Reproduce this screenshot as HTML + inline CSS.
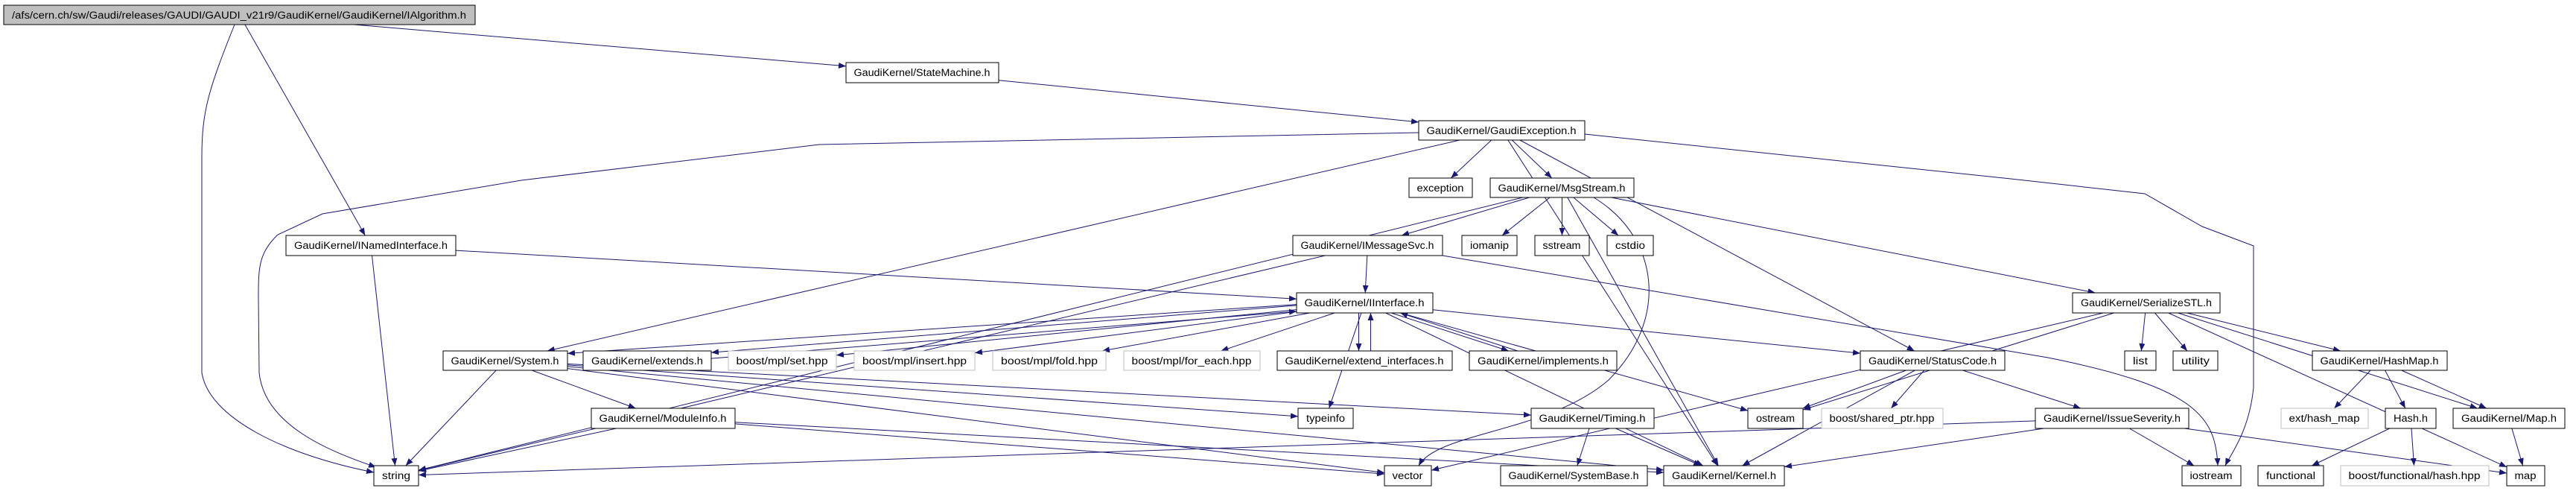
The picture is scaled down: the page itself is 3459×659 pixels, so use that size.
<!DOCTYPE html>
<html><head><meta charset="utf-8">
<style>
html,body{margin:0;padding:0;background:#fff;}
svg{display:block;}
text{font-family:"Liberation Sans",sans-serif;font-size:13.5px;fill:#000;}
</style></head>
<body>
<svg id="g" xmlns="http://www.w3.org/2000/svg" width="3459" height="659" viewBox="0 0 3459 659">
<defs>
<marker id="ar" markerWidth="10" markerHeight="8" refX="10" refY="4" orient="auto" markerUnits="userSpaceOnUse">
<path d="M0,0 L10,4 L0,8 z" fill="#191970"/>
</marker>
</defs>
<g id="edges" fill="none" stroke="#191970" stroke-width="1"></g>
<g id="nodes">
<rect x="5" y="7" width="633" height="26" fill="#bfbfbf" stroke="#000"/><text x="321" y="25" text-anchor="middle" textLength="610" lengthAdjust="spacingAndGlyphs">/afs/cern.ch/sw/Gaudi/releases/GAUDI/GAUDI_v21r9/GaudiKernel/GaudiKernel/IAlgorithm.h</text>
<rect x="1136" y="84" width="205" height="27" fill="#fff" stroke="#000"/><text x="1238" y="102" text-anchor="middle" textLength="183" lengthAdjust="spacingAndGlyphs">GaudiKernel/StateMachine.h</text>
<rect x="1905" y="162" width="223" height="26" fill="#fff" stroke="#000"/><text x="2016" y="180" text-anchor="middle" textLength="201" lengthAdjust="spacingAndGlyphs">GaudiKernel/GaudiException.h</text>
<rect x="1892" y="239" width="85" height="26" fill="#fff" stroke="#000"/><text x="1934" y="257" text-anchor="middle" textLength="63" lengthAdjust="spacingAndGlyphs">exception</text>
<rect x="2001" y="239" width="193" height="26" fill="#fff" stroke="#000"/><text x="2097" y="257" text-anchor="middle" textLength="171" lengthAdjust="spacingAndGlyphs">GaudiKernel/MsgStream.h</text>
<rect x="384" y="316" width="228" height="27" fill="#fff" stroke="#000"/><text x="498" y="334" text-anchor="middle" textLength="206" lengthAdjust="spacingAndGlyphs">GaudiKernel/INamedInterface.h</text>
<rect x="1736" y="316" width="201" height="27" fill="#fff" stroke="#000"/><text x="1836" y="334" text-anchor="middle" textLength="179" lengthAdjust="spacingAndGlyphs">GaudiKernel/IMessageSvc.h</text>
<rect x="1963" y="316" width="74" height="27" fill="#fff" stroke="#000"/><text x="2000" y="334" text-anchor="middle" textLength="52" lengthAdjust="spacingAndGlyphs">iomanip</text>
<rect x="2061" y="316" width="73" height="27" fill="#fff" stroke="#000"/><text x="2097" y="334" text-anchor="middle" textLength="51" lengthAdjust="spacingAndGlyphs">sstream</text>
<rect x="2158" y="316" width="62" height="27" fill="#fff" stroke="#000"/><text x="2189" y="334" text-anchor="middle" textLength="40" lengthAdjust="spacingAndGlyphs">cstdio</text>
<rect x="1741" y="393" width="183" height="27" fill="#fff" stroke="#000"/><text x="1832" y="411" text-anchor="middle" textLength="161" lengthAdjust="spacingAndGlyphs">GaudiKernel/IInterface.h</text>
<rect x="2783" y="393" width="198" height="27" fill="#fff" stroke="#000"/><text x="2882" y="411" text-anchor="middle" textLength="176" lengthAdjust="spacingAndGlyphs">GaudiKernel/SerializeSTL.h</text>
<rect x="595" y="471" width="167" height="26" fill="#fff" stroke="#000"/><text x="678" y="489" text-anchor="middle" textLength="145" lengthAdjust="spacingAndGlyphs">GaudiKernel/System.h</text>
<rect x="783" y="471" width="172" height="26" fill="#fff" stroke="#000"/><text x="869" y="489" text-anchor="middle" textLength="150" lengthAdjust="spacingAndGlyphs">GaudiKernel/extends.h</text>
<rect x="978" y="471" width="145" height="26" fill="#fff" stroke="#bfbfbf"/><text x="1050" y="489" text-anchor="middle" textLength="123" lengthAdjust="spacingAndGlyphs">boost/mpl/set.hpp</text>
<rect x="1147" y="471" width="162" height="26" fill="#fff" stroke="#bfbfbf"/><text x="1228" y="489" text-anchor="middle" textLength="140" lengthAdjust="spacingAndGlyphs">boost/mpl/insert.hpp</text>
<rect x="1333" y="471" width="152" height="26" fill="#fff" stroke="#bfbfbf"/><text x="1409" y="489" text-anchor="middle" textLength="130" lengthAdjust="spacingAndGlyphs">boost/mpl/fold.hpp</text>
<rect x="1509" y="471" width="183" height="26" fill="#fff" stroke="#bfbfbf"/><text x="1600" y="489" text-anchor="middle" textLength="161" lengthAdjust="spacingAndGlyphs">boost/mpl/for_each.hpp</text>
<rect x="1715" y="471" width="235" height="26" fill="#fff" stroke="#000"/><text x="1832" y="489" text-anchor="middle" textLength="213" lengthAdjust="spacingAndGlyphs">GaudiKernel/extend_interfaces.h</text>
<rect x="1973" y="471" width="198" height="26" fill="#fff" stroke="#000"/><text x="2072" y="489" text-anchor="middle" textLength="176" lengthAdjust="spacingAndGlyphs">GaudiKernel/implements.h</text>
<rect x="2498" y="471" width="194" height="26" fill="#fff" stroke="#000"/><text x="2595" y="489" text-anchor="middle" textLength="172" lengthAdjust="spacingAndGlyphs">GaudiKernel/StatusCode.h</text>
<rect x="2853" y="471" width="42" height="26" fill="#fff" stroke="#000"/><text x="2874" y="489" text-anchor="middle" textLength="20" lengthAdjust="spacingAndGlyphs">list</text>
<rect x="2918" y="471" width="60" height="26" fill="#fff" stroke="#000"/><text x="2948" y="489" text-anchor="middle" textLength="38" lengthAdjust="spacingAndGlyphs">utility</text>
<rect x="3105" y="471" width="181" height="26" fill="#fff" stroke="#000"/><text x="3195" y="489" text-anchor="middle" textLength="159" lengthAdjust="spacingAndGlyphs">GaudiKernel/HashMap.h</text>
<rect x="794" y="548" width="193" height="27" fill="#fff" stroke="#000"/><text x="890" y="566" text-anchor="middle" textLength="171" lengthAdjust="spacingAndGlyphs">GaudiKernel/ModuleInfo.h</text>
<rect x="1743" y="548" width="74" height="27" fill="#fff" stroke="#000"/><text x="1780" y="566" text-anchor="middle" textLength="52" lengthAdjust="spacingAndGlyphs">typeinfo</text>
<rect x="2056" y="548" width="165" height="27" fill="#fff" stroke="#000"/><text x="2138" y="566" text-anchor="middle" textLength="143" lengthAdjust="spacingAndGlyphs">GaudiKernel/Timing.h</text>
<rect x="2347" y="548" width="74" height="27" fill="#fff" stroke="#000"/><text x="2384" y="566" text-anchor="middle" textLength="52" lengthAdjust="spacingAndGlyphs">ostream</text>
<rect x="2446" y="548" width="163" height="27" fill="#fff" stroke="#bfbfbf"/><text x="2527" y="566" text-anchor="middle" textLength="141" lengthAdjust="spacingAndGlyphs">boost/shared_ptr.hpp</text>
<rect x="2733" y="548" width="206" height="27" fill="#fff" stroke="#000"/><text x="2836" y="566" text-anchor="middle" textLength="184" lengthAdjust="spacingAndGlyphs">GaudiKernel/IssueSeverity.h</text>
<rect x="3063" y="548" width="117" height="27" fill="#fff" stroke="#bfbfbf"/><text x="3121" y="566" text-anchor="middle" textLength="95" lengthAdjust="spacingAndGlyphs">ext/hash_map</text>
<rect x="3203" y="548" width="68" height="27" fill="#fff" stroke="#000"/><text x="3237" y="566" text-anchor="middle" textLength="46" lengthAdjust="spacingAndGlyphs">Hash.h</text>
<rect x="3294" y="548" width="150" height="27" fill="#fff" stroke="#000"/><text x="3369" y="566" text-anchor="middle" textLength="128" lengthAdjust="spacingAndGlyphs">GaudiKernel/Map.h</text>
<rect x="502" y="625" width="60" height="27" fill="#fff" stroke="#000"/><text x="532" y="643" text-anchor="middle" textLength="38" lengthAdjust="spacingAndGlyphs">string</text>
<rect x="1859" y="625" width="63" height="27" fill="#fff" stroke="#000"/><text x="1890" y="643" text-anchor="middle" textLength="41" lengthAdjust="spacingAndGlyphs">vector</text>
<rect x="2015" y="625" width="197" height="27" fill="#fff" stroke="#000"/><text x="2113" y="643" text-anchor="middle" textLength="175" lengthAdjust="spacingAndGlyphs">GaudiKernel/SystemBase.h</text>
<rect x="2234" y="625" width="162" height="27" fill="#fff" stroke="#000"/><text x="2315" y="643" text-anchor="middle" textLength="140" lengthAdjust="spacingAndGlyphs">GaudiKernel/Kernel.h</text>
<rect x="2930" y="625" width="79" height="27" fill="#fff" stroke="#000"/><text x="2969" y="643" text-anchor="middle" textLength="57" lengthAdjust="spacingAndGlyphs">iostream</text>
<rect x="3032" y="625" width="88" height="27" fill="#fff" stroke="#000"/><text x="3076" y="643" text-anchor="middle" textLength="66" lengthAdjust="spacingAndGlyphs">functional</text>
<rect x="3143" y="625" width="199" height="27" fill="#fff" stroke="#bfbfbf"/><text x="3242" y="643" text-anchor="middle" textLength="177" lengthAdjust="spacingAndGlyphs">boost/functional/hash.hpp</text>
<rect x="3366" y="625" width="51" height="27" fill="#fff" stroke="#000"/><text x="3391" y="643" text-anchor="middle" textLength="29" lengthAdjust="spacingAndGlyphs">map</text>
</g>
</svg>
<script>
var N={alg:[5,7,638,33],sm:[1136,84,1341,111],ge:[1905,162,2128,188],exc:[1892,239,1977,265],ms:[2001,239,2194,265],
nif:[384,316,612,343],ims:[1736,316,1937,343],iom:[1963,316,2037,343],sst:[2061,316,2134,343],cst:[2158,316,2220,343],
ii:[1741,393,1924,420],ser:[2783,393,2981,420],sys:[595,471,762,497],ext:[783,471,955,497],set:[978,471,1123,497],
ins:[1147,471,1309,497],fold:[1333,471,1485,497],fe:[1509,471,1692,497],ei:[1715,471,1950,497],imp:[1973,471,2171,497],
sc:[2498,471,2692,497],lst:[2853,471,2895,497],utl:[2918,471,2978,497],hm:[3105,471,3286,497],mi:[794,548,987,575],
ti:[1743,548,1817,575],tm:[2056,548,2221,575],os:[2347,548,2421,575],sp:[2446,548,2609,575],is:[2733,548,2939,575],
ehm:[3063,548,3180,575],hs:[3203,548,3271,575],mp:[3294,548,3444,575],str:[502,625,562,652],vec:[1859,625,1922,652],
sb:[2015,625,2212,652],ker:[2234,625,2396,652],ios:[2930,625,3009,652],fn:[3032,625,3120,652],bfh:[3143,625,3342,652],map:[3366,625,3417,652]};
function clip(r,cx,cy,dx,dy){var hw=(r[2]-r[0])/2,hh=(r[3]-r[1])/2;var t=1e9;
if(dx!==0)t=Math.min(t,hw/Math.abs(dx));if(dy!==0)t=Math.min(t,hh/Math.abs(dy));return [cx+dx*t,cy+dy*t];}
var E=[["alg","nif"],["alg","sm"],["sm","ge"],["ge","exc"],["ge","ms"],["ge","sc"],["ge","sys"],["ge","ker"],
["ms","ims"],["ms","iom"],["ms","sst"],["ms","cst"],["ms","str"],["ms","ser"],["ms","ker"],
["ims","ii"],["ims","str"],["nif","ii"],["nif","str"],
["ii","sys",0,-4],["ii","ext",0,-4],["ii","set"],["ii","ins"],["ii","fold"],["ii","fe"],["ii","ei",-8,0],["ii","imp",-6,0],
["ii","os"],["ii","sc"],["ii","ti"],["ii","ker"],["ext","ii",0,4],["ei","ii",8,0],["imp","ii",6,0],
["sys","str"],["sys","mi"],["sys","ti"],["sys","vec"],["sys","tm"],["sys","ker"],
["mi","str"],["mi","vec"],["mi","ker"],["tm","sb"],["tm","ker"],
["sc","os"],["sc","sp"],["sc","is"],["sc","ker"],["is","str"],["is","ios"],["is","map"],["is","ker"],
["ser","os"],["ser","vec"],["ser","lst"],["ser","utl"],["ser","hm"],["ser","mp"],["ser","map"],
["hm","ehm"],["hm","hs"],["hm","mp"],["hs","fn"],["hs","bfh"],["mp","map"]];
var g=document.getElementById("edges"),s="";
E.forEach(function(e){var a=N[e[0]],b=N[e[1]],ox=e[2]||0,oy=e[3]||0;
var ax=(a[0]+a[2])/2+ox,ay=(a[1]+a[3])/2+oy,bx=(b[0]+b[2])/2+ox,by=(b[1]+b[3])/2+oy;
var dx=bx-ax,dy=by-ay,p=clip(a,ax,ay,dx,dy),q=clip(b,bx,by,-dx,-dy);
s+='<path d="M'+p[0].toFixed(1)+','+p[1].toFixed(1)+' L'+q[0].toFixed(1)+','+q[1].toFixed(1)+'" marker-end="url(#ar)"/>';});
var C=["M315,33 C280,120 271,150 271,210 L271,500 C280,560 380,610 502,634",
"M1905,178 L1100,194 L700,242 L433,287 L373,315 C347,340 347,360 347,400 L348,500 C355,570 440,605 505,627",
"M2128,180 L2700,240 L2880,260 L2957,304 L3026,330 L3026,520 C3020,580 2995,610 2988,625",
"M1937,343 L2750,480 C2950,520 2975,560 2978,625",
"M2140,265 C2230,320 2240,430 2160,510 C2080,580 1930,580 1905,625"];
C.forEach(function(d){s+='<path d="'+d+'" marker-end="url(#ar)"/>';});
g.innerHTML=s;
</script>
</body></html>
